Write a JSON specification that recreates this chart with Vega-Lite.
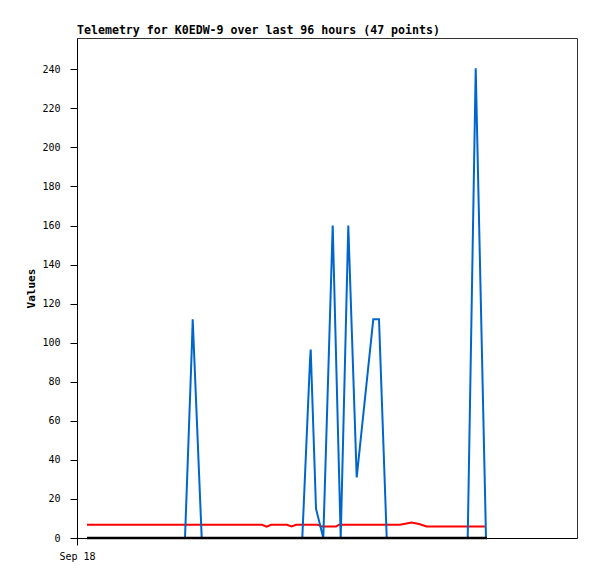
{
  "$schema": "https://vega.github.io/schema/vega-lite/v6.json",
  "width": 500,
  "height": 500,
  "autosize": {"type": "none"},
  "padding": {"left": 77, "top": 38, "right": 20, "bottom": 41},
  "background": "white",
  "config": {
    "view": {"stroke": "#333333", "strokeWidth": 1},
    "font": "DejaVu Sans Mono"
  },
  "title": {
    "text": "Telemetry for K0EDW-9 over last 96 hours (47 points)",
    "anchor": "start",
    "frame": "group",
    "font": "DejaVu Sans Mono",
    "fontSize": 11.6,
    "fontWeight": "bold",
    "color": "black",
    "offset": 1
  },
  "datasets": {
    "red": [
      {"t": 2.4, "v": 6.8},
      {"t": 44.4, "v": 6.8},
      {"t": 45.5, "v": 5.8},
      {"t": 46.6, "v": 6.8},
      {"t": 50.4, "v": 6.8},
      {"t": 51.5, "v": 5.9},
      {"t": 52.6, "v": 6.8},
      {"t": 57.8, "v": 6.8},
      {"t": 58.6, "v": 5.9},
      {"t": 62.2, "v": 5.9},
      {"t": 62.9, "v": 6.8},
      {"t": 77.5, "v": 6.8},
      {"t": 80.3, "v": 7.9},
      {"t": 82.1, "v": 7.2},
      {"t": 83.9, "v": 5.9},
      {"t": 97.9, "v": 5.9}
    ],
    "blue": [
      {"t": 2.4, "v": 0},
      {"t": 25.92, "v": 0},
      {"t": 27.6, "v": 100},
      {"t": 27.77, "v": 112},
      {"t": 29.93, "v": 0},
      {"t": 54.07, "v": 0},
      {"t": 55.92, "v": 91},
      {"t": 56.09, "v": 96.5},
      {"t": 57.36, "v": 15},
      {"t": 59.11, "v": 0},
      {"t": 61.37, "v": 160},
      {"t": 63.29, "v": 0},
      {"t": 65.11, "v": 160},
      {"t": 67.13, "v": 31},
      {"t": 71.11, "v": 112},
      {"t": 72.48, "v": 112},
      {"t": 74.33, "v": 0},
      {"t": 93.77, "v": 0},
      {"t": 95.69, "v": 240.5},
      {"t": 98.16, "v": 0},
      {"t": 98.4, "v": 0}
    ],
    "black": [
      {"t": 2.4, "v": 0},
      {"t": 98.4, "v": 0}
    ]
  },
  "encoding": {
    "x": {
      "field": "t",
      "type": "quantitative",
      "scale": {"domain": [0, 120], "nice": false, "zero": false},
      "axis": {
        "values": [0],
        "labelExpr": "'Sep 18'",
        "labelAlign": "center",
        "labelFlush": false,
        "title": null,
        "grid": false,
        "tickSize": 7,
        "tickColor": "black",
        "domainColor": "black",
        "labelFont": "DejaVu Sans Mono",
        "labelFontSize": 10,
        "labelColor": "black",
        "labelPadding": 6
      }
    },
    "y": {
      "field": "v",
      "type": "quantitative",
      "scale": {"domain": [0, 256], "nice": false},
      "axis": {
        "values": [0, 20, 40, 60, 80, 100, 120, 140, 160, 180, 200, 220, 240],
        "title": "Values",
        "titleFont": "DejaVu Sans Mono",
        "titleFontSize": 11,
        "titleFontWeight": "bold",
        "titleColor": "black",
        "titlePadding": 5,
        "grid": false,
        "tickSize": 7,
        "tickColor": "black",
        "domainColor": "black",
        "labelFont": "DejaVu Sans Mono",
        "labelFontSize": 10,
        "labelColor": "black",
        "labelPadding": 10
      }
    }
  },
  "layer": [
    {
      "data": {"name": "red"},
      "mark": {"type": "line", "color": "#ff0000", "strokeWidth": 2}
    },
    {
      "data": {"name": "blue"},
      "mark": {"type": "line", "color": "#0066cc", "strokeWidth": 2}
    },
    {
      "data": {"name": "black"},
      "mark": {"type": "line", "color": "#000000", "strokeWidth": 2.5}
    }
  ]
}
